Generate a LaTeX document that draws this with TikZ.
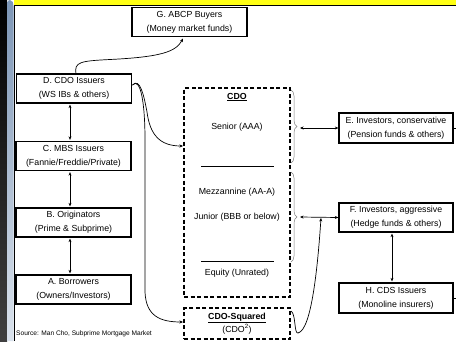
\documentclass[tikz,border=0pt]{standalone}
\usepackage{fontspec}
\setmainfont{Liberation Sans}
\usetikzlibrary{arrows.meta,decorations.pathreplacing}
\definecolor{stripA}{RGB}{125,150,182}
\definecolor{stripB}{RGB}{218,226,236}
\definecolor{barY}{RGB}{255,255,20}
\begin{document}
\begin{tikzpicture}[x=1pt,y=-1pt,
 font=\fontsize{8.8}{14}\selectfont,
 box/.style={draw, line width=1.3pt, minimum width=115pt, minimum height=29pt, align=center, inner sep=0pt},
 lbl/.style={inner sep=0pt},
 tip/.style={Stealth[length=3.5pt,width=3pt]},
 arr/.style={line width=0.7pt, -{Stealth[length=3.5pt,width=3pt]}},
 biarr/.style={line width=0.7pt, {Stealth[length=3.5pt,width=3pt]}-{Stealth[length=3.5pt,width=3pt]}},
 dbox/.style={draw, line width=1.2pt, dash pattern=on 4pt off 2.5pt, inner sep=0pt},
 brc/.style={draw=gray, line width=0.5pt, decorate, decoration={brace, amplitude=6pt}},
 rule/.style={line width=0.8pt}
]
\useasboundingbox (0,0) rectangle (456,341);
% frame
\shade[top color=black, bottom color=black!75] (0,0) rectangle (7,341);
\shade[top color=stripA, bottom color=stripB] (7,341) -- (7,6) to[out=90,in=180] (10,0) to[out=0,in=90] (13.5,6) -- (13.5,341) -- cycle;
\fill[barY] (13.5,0) rectangle (456,4.5);
\draw[line width=1.3pt] (13.5,5.6) -- (456,5.6);
\draw[line width=1.3pt] (14.6,5) -- (14.6,341);

% left column
\node[box] (g) at (189.5,22) {G. ABCP Buyers\\(Money market funds)};
\node[box] (d) at (74,88.5) {D. CDO Issuers\\(WS IBs \& others)};
\node[box] (c) at (73.5,156) {C. MBS Issuers\\(Fannie/Freddie/Private)};
\node[box] (b) at (73.5,222.5) {B. Originators\\(Prime \& Subprime)};
\node[box] (a) at (73.5,289.5) {A. Borrowers\\(Owners/Investors)};

% right column
\node[box, minimum width=114pt, minimum height=30pt] (e) at (396,128) {E. Investors, conservative\\(Pension funds \& others)};
\node[box, minimum width=114pt] (f) at (396,217.5) {F. Investors, aggressive\\(Hedge funds \& others)};
\node[box, minimum width=114pt, minimum height=30pt] (h) at (396,298) {H. CDS Issuers\\(Monoline insurers)};

% CDO boxes
\node[dbox, minimum width=106pt, minimum height=209pt] (cdo) at (237,192.5) {};
\node[lbl] (cdot) at (237,97) {\textbf{\underline{CDO}}};
\node[lbl] (sen) at (237,127) {Senior (AAA)};
\node[lbl] (mez) at (237,192) {Mezzannine (AA-A)};
\node[lbl] (jun) at (237,217) {Junior (BBB or below)};
\node[lbl] (equ) at (237,273) {Equity (Unrated)};
\draw[rule] (201,166) -- (274,166);
\draw[rule] (201,261) -- (274,261);

\node[dbox, minimum width=106pt, minimum height=31pt] (cdo2) at (237,323.5) {};
\node[lbl] (cdo2t) at (237,318) {\textbf{\underline{CDO-Squared}}};
\node[lbl] (cdo2s) at (237,329.5) {(CDO\textsuperscript{2})};

% braces
\draw[brc] (291,90) -- (291,163);
\draw[brc] (291,172) -- (291,262);
\coordinate (ub) at (300,128);
\coordinate (lb) at (300,217);
\coordinate (fj) at (321,218);
\draw[biarr] (ub) -- (e.west);
\draw[biarr] (lb) -- (f.west);

% vertical arrows
\draw[biarr, shorten <=1pt, shorten >=1pt] ([xshift=-4pt]d.south) -- ([xshift=-3.5pt]c.north);
\draw[biarr, shorten <=1pt, shorten >=1pt] ([xshift=-3.5pt]c.south) -- ([xshift=-3.5pt]b.north);
\draw[biarr, shorten <=1pt, shorten >=1pt] ([xshift=-3.5pt]b.south) -- ([xshift=-3.5pt]a.north);
\draw[biarr, shorten <=1pt, shorten >=1pt] ([xshift=-4pt]f.south) -- ([xshift=-4pt]h.north);

% curves
\coordinate (dtop) at (76,74);
\coordinate (gbot) at (183,38.5);
\draw[arr] (dtop) .. controls (74,62) and (80,61) .. (110,59.5) .. controls (160,57) and (176,52) .. (gbot);
\coordinate (dr) at (132.5,85);
\coordinate (cdoin) at (183,146);
\coordinate (cdo2in) at (183,322);
\draw[arr] (dr) .. controls (140,77) and (144,96) .. (147,112) .. controls (150,135) and (160,146) .. (cdoin);
\draw[arr] (dr) .. controls (140,77) and (145,100) .. (145,140) -- (145,292) .. controls (146,316) and (160,322) .. (cdo2in);
\coordinate (c2r) at (291,311);
\draw[arr] (c2r) .. controls (296,314) and (294,334) .. (298,333) .. controls (312,330) and (318,262) .. (fj);

% stubs leaving the picture
\coordinate (eout) at (457,128);
\coordinate (hout) at (457,298);
\draw[line width=0.7pt] (e.east) -- (eout);
\draw[line width=0.7pt] (h.east) -- (hout);

\node[anchor=west, inner sep=0pt, font=\fontsize{6.6}{8}\selectfont] (src) at (16,334) {Source: Man Cho, Subprime Mortgage Market};
\end{tikzpicture}
\end{document}
